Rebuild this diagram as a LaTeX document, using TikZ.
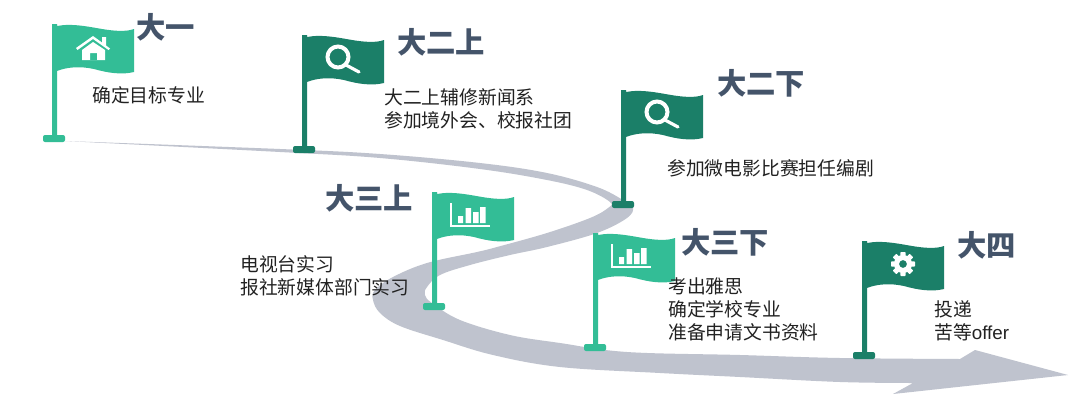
\documentclass[tikz,border=0pt]{standalone}
\usepackage{fontspec}
\setmainfont{Noto Sans CJK SC}
\newfontfamily\lat{Liberation Sans}
\definecolor{flaglight}{HTML}{33BD96}
\definecolor{flagdark}{HTML}{1B7F68}
\definecolor{roadgrey}{HTML}{BFC3CE}
\definecolor{titleink}{HTML}{44546A}
\definecolor{bodyink}{HTML}{222222}
\tikzset{
  titletext/.style={anchor=west,inner sep=0pt,text=titleink,font=\fontsize{22}{24}\selectfont\bfseries},
  bodytext/.style={anchor=west,inner sep=0pt,text=bodyink,align=left,font=\fontsize{14.1}{17.25}\selectfont},
  iconline/.style={white,line width=2.4pt,line cap=round},
}
\newcommand{\flagshape}[3]{%
  \begin{scope}[shift={(#1)}]
    \fill[#2] (0,0) -- (5,0) -- (5,2) .. controls (20,-1) and (38,3) .. (50,5)
      .. controls (62,7) and (74,8) .. (82,5) -- (82,48)
      .. controls (70,51) and (56,49) .. (42,45)
      .. controls (28,42) and (15,43) .. (5,47) -- (5,111) -- (11,111)
      [rounded corners=1.5pt] -- (13,111) -- (13,118) -- (-9,118) -- (-9,111)
      [sharp corners] -- (0,111) -- cycle;
    #3
  \end{scope}}
\newcommand{\houseicon}{%
  \fill[white] (24,24) -- (41,12) -- (50,18.5) -- (50,13) -- (54,13) -- (54,21.5) -- (58,24.5) -- (56.5,26) -- (41,15) -- (25.5,26) -- cycle;
  \fill[white,even odd rule] (41,18) -- (53,26) -- (53,36) -- (30,36) -- (30,26) -- cycle (38,29) rectangle (45,36);}
\newcommand{\lensicon}{%
  \draw[white,line width=3pt] (36,22) circle[radius=10.5];
  \draw[iconline] (44,30) -- (57,37);}
\newcommand{\barsicon}{%
  \draw[white,line width=1.1pt] (19,11) -- (19,34) -- (58,34);
  \fill[white] (26,24) rectangle (31,31) (33.5,16) rectangle (39,31) (41,20) rectangle (46.5,31) (48,15) rectangle (53.5,31);}
\newcommand{\gearicon}{%
  \begin{scope}[shift={(41,23)}]
    \foreach \a in {0,45,...,315}{\fill[white,rotate=\a,rounded corners=.5pt] (-2.6,-12) rectangle (2.6,-6);}
    \fill[white,even odd rule] (0,0) circle[radius=9] (0,0) circle[radius=4];
  \end{scope}}
\begin{document}
\begin{tikzpicture}[x=0.75pt,y=-0.75pt]
\useasboundingbox (0,0) rectangle (1080,414);
\fill[white] (0,0) rectangle (1080,414);
% road
\fill[roadgrey]
  plot[smooth,tension=0.6] coordinates {(65,141) (280,149) (380,154) (480,163) (547,173) (597,187) (623,200) (633,207) (627,218) (597,233) (547,247) (510,255) (470,265) (440,275) (427,287) (425,295) (432,303) (460,320) (510,335) (560,343) (627,352) (740,355) (840,358) (960,359)}
  -- (975,350) -- (1068,375) -- (893,394) -- (913,383)
  -- plot[smooth,tension=0.6] coordinates {(913,383) (840,382) (740,377) (660,373) (560,367) (493,355) (443,340) (400,326) (380,313) (373,300) (375,290) (393,277) (427,263) (477,252) (497,247) (547,233) (590,218) (608,208) (610,202) (587,190) (547,180) (480,169) (380,158) (280,152) (65,141)}
  -- cycle;
% flags
\flagshape{52,24}{flaglight}{\houseicon}
\flagshape{302,35}{flagdark}{\lensicon}
\flagshape{621,90}{flagdark}{\lensicon}
\flagshape{432,192}{flaglight}{\barsicon}
\flagshape{593,233}{flaglight}{\barsicon}
\flagshape{862,241}{flagdark}{\gearicon}
% titles
\node[titletext] (t1) at (136,27) {大一};
\node[titletext] (t2) at (397,42) {大二上};
\node[titletext] (t3) at (717,83) {大二下};
\node[titletext] (t4) at (325,198) {大三上};
\node[titletext] (t5) at (681,242) {大三下};
\node[titletext] (t6) at (957,245) {大四};
% body
\node[bodytext] (b1) at (92,95) {确定目标专业};
\node[bodytext] (b2) at (384,109) {大二上辅修新闻系\\参加境外会、校报社团};
\node[bodytext] (b3) at (667,168) {参加微电影比赛担任编剧};
\node[bodytext] (b4) at (240,276) {电视台实习\\报社新媒体部门实习};
\node[bodytext] (b5) at (668,309) {考出雅思\\确定学校专业\\准备申请文书资料};
\node[bodytext] (b6) at (934,321) {投递\\苦等{\lat offer}};
\end{tikzpicture}
\end{document}
